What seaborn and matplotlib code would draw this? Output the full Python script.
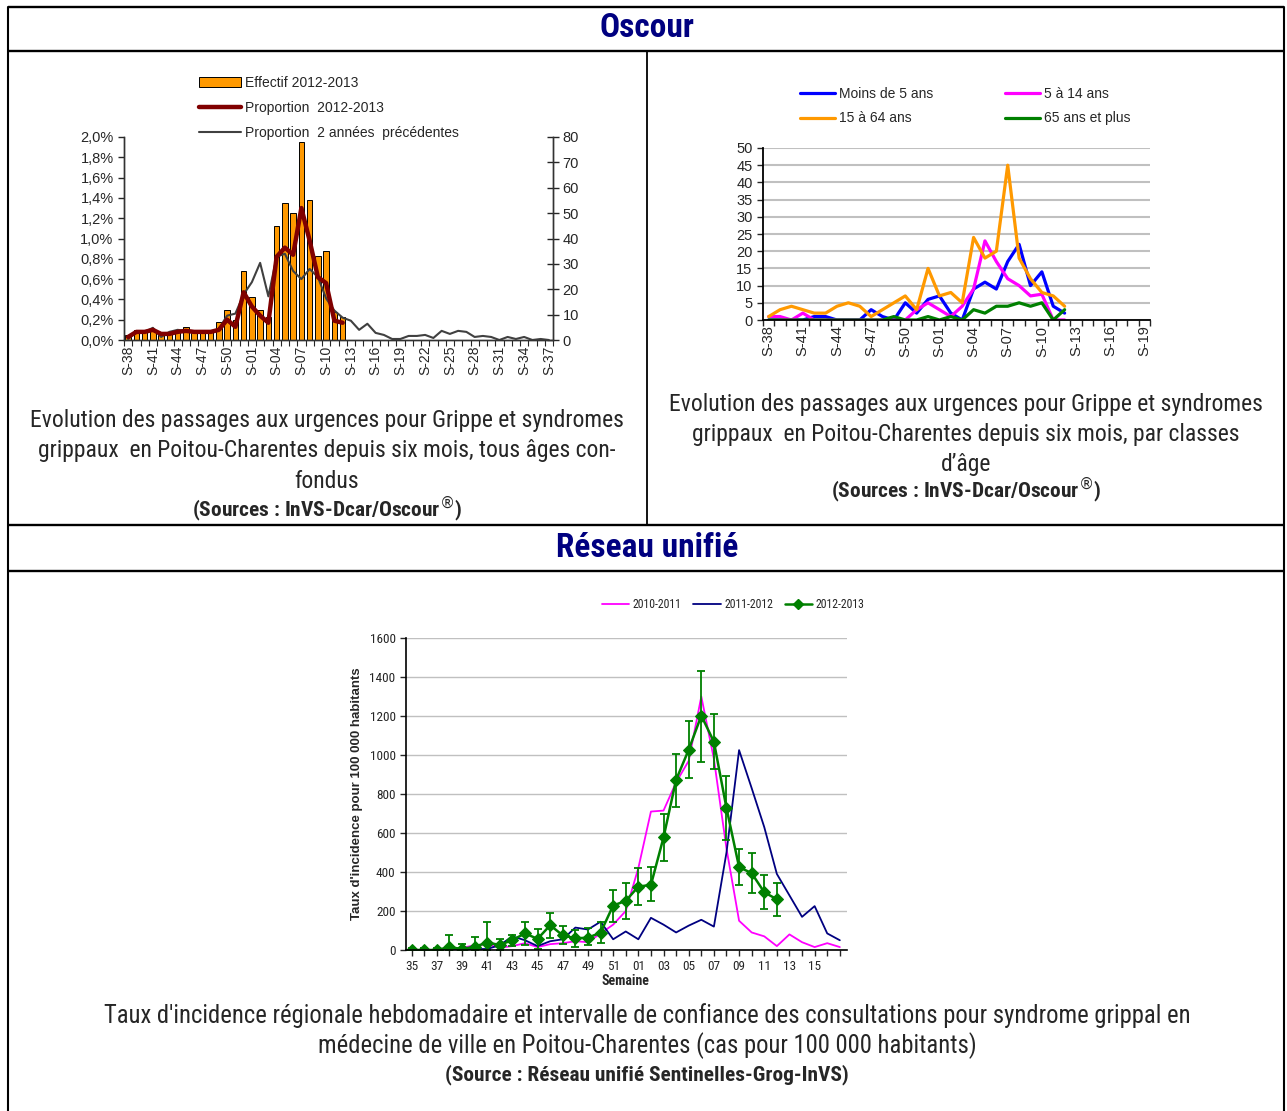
import numpy as np
import matplotlib.pyplot as plt
from matplotlib import font_manager
from matplotlib.lines import Line2D
from matplotlib.patches import Patch
import seaborn as sns

# --- Data: Oscour, all ages (S-38 2012 -> S-37 2013) ---
weeks1 = ['S-38', 'S-39', 'S-40', 'S-41', 'S-42', 'S-43', 'S-44', 'S-45', 'S-46', 'S-47',
          'S-48', 'S-49', 'S-50', 'S-51', 'S-52', 'S-01', 'S-02', 'S-03', 'S-04', 'S-05',
          'S-06', 'S-07', 'S-08', 'S-09', 'S-10', 'S-11', 'S-12', 'S-13', 'S-14', 'S-15',
          'S-16', 'S-17', 'S-18', 'S-19', 'S-20', 'S-21', 'S-22', 'S-23', 'S-24', 'S-25',
          'S-26', 'S-27', 'S-28', 'S-29', 'S-30', 'S-31', 'S-32', 'S-33', 'S-34', 'S-35',
          'S-36', 'S-37']
effectif = [2, 4, 4, 4, 3, 3, 4, 5, 4, 4, 4, 7, 12, 8, 27, 17, 12, 9, 45, 54, 50, 78, 55,
            33, 35, 11, 9]
prop_1213 = [0.03, 0.08, 0.08, 0.10, 0.06, 0.06, 0.08, 0.09, 0.08, 0.08, 0.08, 0.10, 0.20,
             0.13, 0.47, 0.33, 0.24, 0.17, 0.82, 0.91, 0.84, 1.30, 0.98, 0.62, 0.56, 0.19,
             0.17]
prop_prev = [0.01, 0.08, 0.08, 0.12, 0.03, 0.08, 0.10, 0.09, 0.07, 0.07, 0.08, 0.11, 0.24,
             0.26, 0.45, 0.57, 0.76, 0.43, 0.82, 0.85, 0.68, 0.60, 0.70, 0.62, 0.41, 0.29,
             0.22, 0.19, 0.10, 0.16, 0.07, 0.05, 0.01, 0.01, 0.04, 0.04, 0.05, 0.02, 0.09,
             0.06, 0.09, 0.08, 0.03, 0.04, 0.03, 0.00, 0.03, 0.01, 0.03, 0.00, 0.01, 0.00]
pct_ticks = [0.0, 0.2, 0.4, 0.6, 0.8, 1.0, 1.2, 1.4, 1.6, 1.8, 2.0]

# --- Data: Oscour by age class (S-38 -> S-19) ---
weeks2 = weeks1[:34]
moins5 = [0, 0, 0, 0, 1, 1, 0, 0, 0, 3, 1, 0, 5, 2, 6, 7, 2, 0, 9, 11, 9, 17, 22, 10, 14, 4, 2]
a5_14 = [1, 1, 0, 2, 0, 0, 0, 0, 0, 0, 0, 0, 0, 3, 5, 3, 1, 4, 9, 23, 17, 12, 10, 7, 7.5, 0, 0]
a15_64 = [1, 3, 4, 3, 2, 2, 4, 5, 4, 1, 3, 5, 7, 3, 15, 7, 8, 5, 24, 18, 20, 45, 18, 12, 8, 7, 4]
a65 = [0, 0, 0, 0, 0, 0, 0, 0, 0, 0, 0, 1, 0, 0, 1, 0, 1, 0, 3, 2, 4, 4, 5, 4, 5, 0, 3]

# --- Data: Réseau unifié (week 35 -> week 17) ---
weeks3 = ['35', '36', '37', '38', '39', '40', '41', '42', '43', '44', '45', '46', '47', '48',
          '49', '50', '51', '52', '01', '02', '03', '04', '05', '06', '07', '08', '09', '10',
          '11', '12', '13', '14', '15', '16', '17']
inc_1011 = [0, 0, 0, 5, 10, 25, 28, 12, 20, 35, 15, 30, 35, 45, 40, 85, 130, 200,
            420, 710, 715, 860, 970, 1300, 980, 520, 150, 90, 70, 20, 80, 40, 15, 35, 15]
inc_1112 = [0, 0, 0, 0, 0, 5, 5, 25, 70, 50, 20, 45, 55, 115, 105, 145, 55, 95,
            55, 165, 130, 90, 125, 155, 120, 500, 1025, 830, 630, 390, 280, 170, 225, 85, 50]
inc_1213 = [0, 0, 0, 15, 5, 17, 38, 26, 51, 85, 57, 127, 75, 60, 63, 89, 228, 252,
            325, 334, 577, 873, 1027, 1202, 1068, 728, 425, 394, 296, 260]
inc_1213_lo = [0, 0, 0, 0, 0, 0, 0, 0, 20, 28, 4, 63, 29, 17, 26, 38, 145, 157,
               231, 252, 454, 733, 882, 962, 928, 562, 334, 291, 209, 175]
inc_1213_hi = [12, 10, 10, 77, 30, 68, 145, 56, 75, 145, 108, 192, 123, 103, 115, 145, 308, 342,
               419, 424, 698, 1007, 1173, 1430, 1212, 894, 517, 497, 385, 346]

# --- Style / fonts ---
sns.set_style('ticks')
names = {f.name for f in font_manager.fontManager.ttflist}
narrow = next((n for n in ['Liberation Sans Narrow', 'Roboto Condensed', 'Open Sans Condensed']
               if n in names), 'DejaVu Sans')
arial = 'Liberation Sans' if 'Liberation Sans' in names else 'DejaVu Sans'
plt.rcParams['font.family'] = [arial, 'DejaVu Sans']
cap_size = 17 if narrow != 'DejaVu Sans' else 13
bot_size = 17.7 if narrow != 'DejaVu Sans' else 13.5
src_size = 15.4 if narrow != 'DejaVu Sans' else 12
nfam = [narrow, 'DejaVu Sans']

W, H = 1287, 1111
fig = plt.figure(figsize=(W / 100, H / 100), dpi=100)


def box(x0, y0, x1, y1):
    return [x0 / W, 1 - y1 / H, (x1 - x0) / W, (y1 - y0) / H]


# background layer for table borders and texts (pixel coordinates)
bg = fig.add_axes([0, 0, 1, 1], zorder=-1)
bg.set_xlim(0, W)
bg.set_ylim(H, 0)
bg.axis('off')
for yy in [7, 51, 525, 571]:
    bg.plot([8, 1284], [yy, yy], color='black', lw=1.7, solid_capstyle='butt')
bg.plot([8, 8], [7, H], color='black', lw=1.5)
bg.plot([1284, 1284], [7, H], color='black', lw=1.5)
bg.plot([647, 647], [51, 525], color='black', lw=1.3)

bg.text(647, 28, 'Oscour', color='#000080', fontsize=24, fontweight='bold',
        family=nfam, ha='center', va='center')
bg.text(647, 548, 'Réseau unifié', color='#000080', fontsize=24, fontweight='bold',
        family=nfam, ha='center', va='center')

cap_left = ['Evolution des passages aux urgences pour Grippe et syndromes',
            'grippaux  en Poitou-Charentes depuis six mois, tous âges con-',
            'fondus']
for i, line in enumerate(cap_left):
    bg.text(327, 421 + i * 30, line, fontsize=cap_size, family=nfam,
            ha='center', va='center')
bg.text(327, 510, '(Sources : InVS-Dcar/Oscour$^{®}$)', fontsize=src_size,
        fontweight='bold', family=nfam, ha='center', va='center')

cap_right = ['Evolution des passages aux urgences pour Grippe et syndromes',
             'grippaux  en Poitou-Charentes depuis six mois, par classes',
             'd\u2019âge']
for i, line in enumerate(cap_right):
    bg.text(966, 404 + i * 30, line, fontsize=cap_size, family=nfam,
            ha='center', va='center')
bg.text(966, 491, '(Sources : InVS-Dcar/Oscour$^{®}$)', fontsize=src_size,
        fontweight='bold', family=nfam, ha='center', va='center')

cap_bottom = ["Taux d'incidence régionale hebdomadaire et intervalle de confiance des consultations pour syndrome grippal en",
              'médecine de ville en Poitou-Charentes (cas pour 100 000 habitants)']
for i, line in enumerate(cap_bottom):
    bg.text(647, 1016 + i * 30, line, fontsize=bot_size, family=nfam,
            ha='center', va='center')
bg.text(647, 1075, '(Source : Réseau unifié Sentinelles-Grog-InVS)', fontsize=src_size,
        fontweight='bold', family=nfam, ha='center', va='center')

# --- Chart 1: effectif (bars, right axis) + proportions (lines, left axis) ---
ax1 = fig.add_axes(box(124, 137, 553, 340))
sns.barplot(x=np.arange(len(effectif)), y=effectif, native_scale=True, width=0.65,
            color='#FF9900', saturation=1, edgecolor='black', linewidth=0.7,
            errorbar=None, ax=ax1)
ax1b = ax1.twinx()
sns.lineplot(x=np.arange(len(prop_prev)), y=prop_prev, color='#404040', lw=1.5, ax=ax1b)
sns.lineplot(x=np.arange(len(prop_1213)), y=prop_1213, color='#800000', lw=3.2, ax=ax1b)

ax1.set_xlim(-0.5, len(weeks1) - 0.5)
ax1.set_ylim(0, 80)
ax1.set_yticks(range(0, 81, 10))
ax1.yaxis.tick_right()
ax1.tick_params(axis='y', direction='inout', length=8, width=1, labelsize=10.5, pad=3)
ax1.set_xticks(range(0, len(weeks1), 3), weeks1[::3], rotation=90)
ax1.set_xticks(np.arange(-0.5, len(weeks1)), minor=True)
ax1.tick_params(axis='x', which='major', length=0, labelsize=10, pad=4)
ax1.tick_params(axis='x', which='minor', length=4, width=0.8, direction='out')
ax1.set_xlabel('')
ax1.set_ylabel('')

ax1b.set_ylim(0, 2.0)
ax1b.set_yticks(pct_ticks, [f'{v:.1f}%'.replace('.', ',') for v in pct_ticks])
ax1b.yaxis.tick_left()
ax1b.tick_params(axis='y', direction='out', length=4, width=1, labelsize=10.5)
ax1b.set_ylabel('')
for a in (ax1, ax1b):
    a.spines['top'].set_visible(False)
    for s in ('left', 'right', 'bottom'):
        a.spines[s].set_color('#333333')
        a.spines[s].set_linewidth(1)

h1 = [Patch(facecolor='#FF9900', edgecolor='black', lw=0.7),
      Line2D([], [], color='#800000', lw=3.2),
      Line2D([], [], color='#404040', lw=1.5)]
fig.legend(h1, ['Effectif 2012-2013', 'Proportion  2012-2013', 'Proportion  2 années  précédentes'],
           loc='upper left', bbox_to_anchor=(199 / W, 1 - 76 / H), frameon=False,
           handlelength=3.0, handletextpad=0.3, labelspacing=0.8, borderpad=0,
           borderaxespad=0, fontsize=10)

# --- Chart 2: by age class ---
ax2 = fig.add_axes(box(763, 148, 1150, 320))
x2 = np.arange(len(moins5))
sns.lineplot(x=x2, y=moins5, color='#0000FF', lw=2.3, ax=ax2)
sns.lineplot(x=x2, y=a5_14, color='#FF00FF', lw=2.3, ax=ax2)
sns.lineplot(x=x2, y=a15_64, color='#FF9900', lw=2.3, ax=ax2)
sns.lineplot(x=x2, y=a65, color='#008000', lw=2.3, ax=ax2)
ax2.set_xlim(-0.5, len(weeks2) - 0.5)
ax2.set_ylim(0, 50)
ax2.set_yticks(range(0, 51, 5))
ax2.yaxis.grid(True, color='#C0C0C0', lw=1.5)
ax2.set_axisbelow(True)
ax2.set_xticks(range(0, len(weeks2), 3), weeks2[::3], rotation=90)
ax2.set_xticks(np.arange(-0.5, len(weeks2)), minor=True)
ax2.tick_params(axis='x', which='major', length=0, labelsize=10.5, pad=4)
ax2.tick_params(axis='x', which='minor', length=4, width=1, direction='out')
ax2.tick_params(axis='y', length=4, width=1, direction='out', labelsize=10.5)
ax2.spines['top'].set_visible(False)
ax2.spines['right'].set_visible(False)
for s in ('left', 'bottom'):
    ax2.spines[s].set_color('black')
    ax2.spines[s].set_linewidth(1.3)

h2 = [Line2D([], [], color='#0000FF', lw=2.3), Line2D([], [], color='#FF9900', lw=2.3),
      Line2D([], [], color='#FF00FF', lw=2.3), Line2D([], [], color='#008000', lw=2.3)]
fig.legend(h2, ['Moins de 5 ans', '15 à 64 ans', '5 à 14 ans', '65 ans et plus'], ncol=2,
           loc='upper left', bbox_to_anchor=(800 / W, 1 - 87 / H), frameon=False,
           handlelength=2.5, handletextpad=0.3, labelspacing=0.75, columnspacing=5.2,
           borderpad=0, borderaxespad=0, fontsize=10)

# --- Chart 3: Réseau unifié ---
ax3 = fig.add_axes(box(406, 638, 847, 950))
x3 = np.arange(len(weeks3))
xg = np.arange(len(inc_1213))
g = np.array(inc_1213)
sns.lineplot(x=x3, y=inc_1011, color='#FF00FF', lw=1.3, ax=ax3)
sns.lineplot(x=x3, y=inc_1112, color='#000080', lw=1.3, ax=ax3)
ax3.errorbar(xg, g, yerr=[g - np.array(inc_1213_lo), np.array(inc_1213_hi) - g], fmt='none',
             ecolor='#008000', elinewidth=1.3, capsize=3, capthick=1.3)
sns.lineplot(x=xg, y=inc_1213, color='#008000', lw=1.8, marker='D', markersize=6,
             markeredgecolor='#008000', ax=ax3)
ax3.set_xlim(-0.45, 34.57)
ax3.set_ylim(0, 1600)
ax3.set_yticks(range(0, 1601, 200))
ax3.yaxis.grid(True, color='#C0C0C0', lw=1)
ax3.set_axisbelow(True)
ax3.set_xticks(x3, [w if (i % 2 == 0 and i < 33) else '' for i, w in enumerate(weeks3)])
ax3.tick_params(axis='both', length=4, width=1, direction='out', labelsize=9.5,
                labelfontfamily=narrow)
ax3.spines['top'].set_visible(False)
ax3.spines['right'].set_visible(False)
for s in ('left', 'bottom'):
    ax3.spines[s].set_color('black')
    ax3.spines[s].set_linewidth(1.2)
ax3.set_xlabel('')
ax3.set_ylabel('')

bg.text(357, 794, "Taux d'incidence pour 100 000 habitants", rotation=90, fontsize=9.5,
        fontweight='bold', ha='center', va='center')
bg.text(625, 981, 'Semaine', fontsize=10, fontweight='bold', family=nfam,
        ha='center', va='center')

h3 = [Line2D([], [], color='#FF00FF', lw=1.3), Line2D([], [], color='#000080', lw=1.3),
      Line2D([], [], color='#008000', lw=1.8, marker='D', markersize=5)]
fig.legend(h3, ['2010-2011', '2011-2012', '2012-2013'], ncol=3, loc='center left',
           bbox_to_anchor=(602 / W, 1 - 605 / H), frameon=False, handlelength=2.3,
           handletextpad=0.3, columnspacing=1.0, borderpad=0, borderaxespad=0,
           prop={'family': nfam, 'size': 8.5})

fig.savefig('out.png', dpi=100)
